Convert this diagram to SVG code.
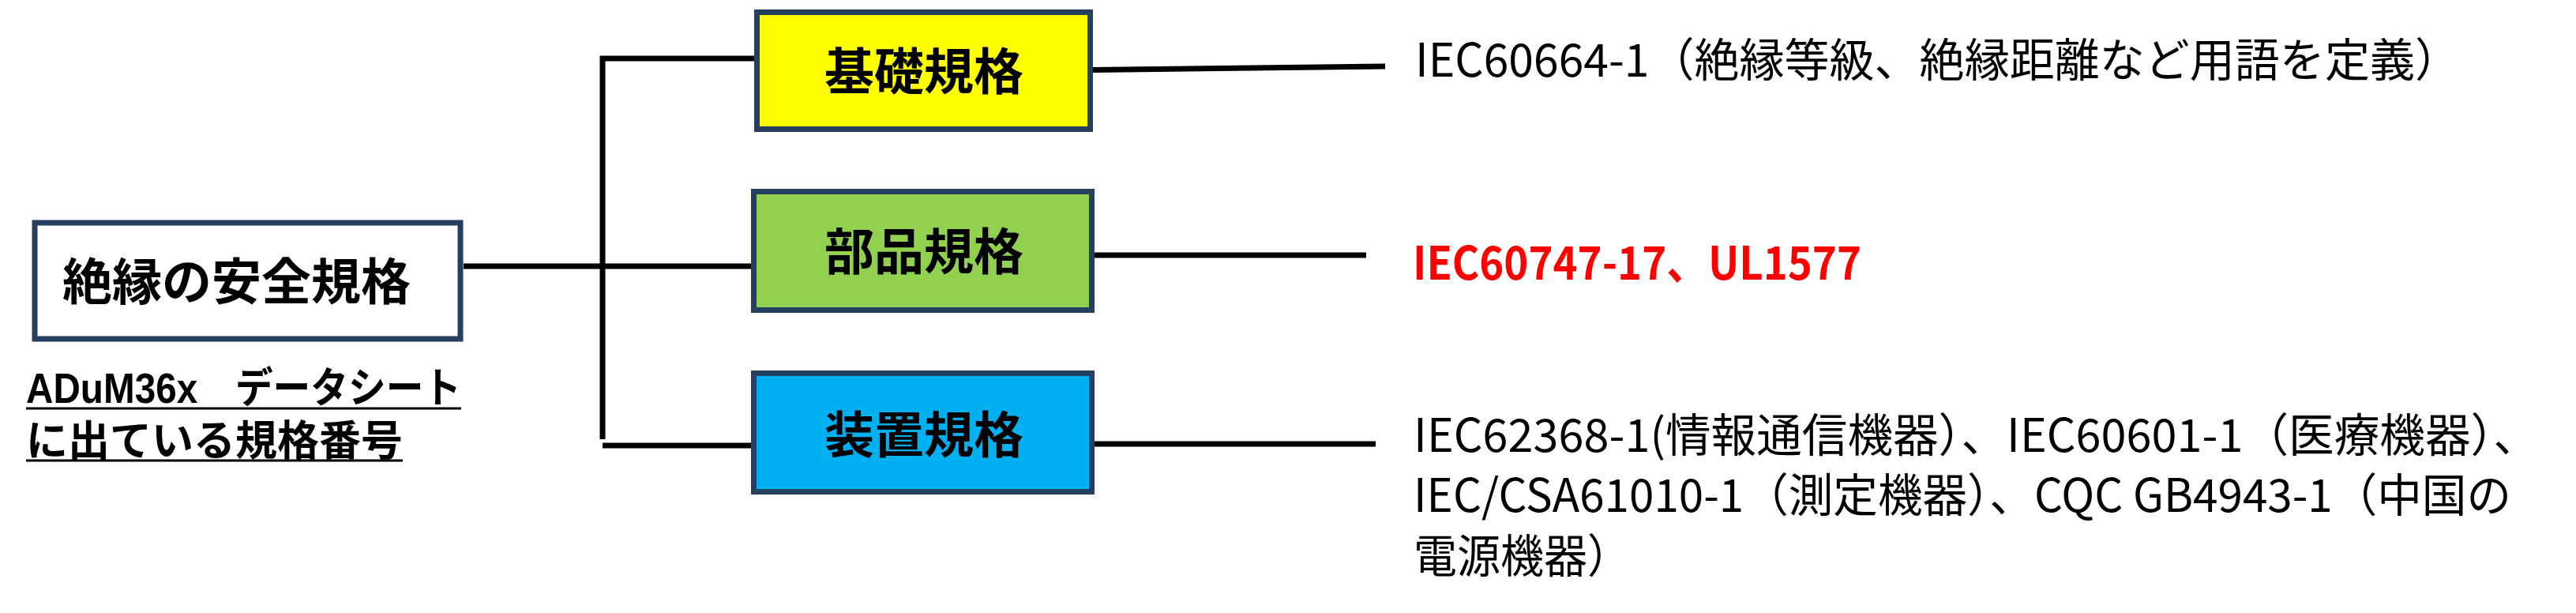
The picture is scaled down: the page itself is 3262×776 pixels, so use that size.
<svg xmlns="http://www.w3.org/2000/svg" width="3262" height="776" viewBox="0 0 3262 776">
<style>
.box{stroke:#243F60;stroke-width:7}
.lbl{font-family:"Noto Sans CJK JP","Noto Sans",sans-serif;font-weight:700;font-size:63px;fill:#000}
.std{font-family:"Noto Sans CJK JP","Noto Sans",sans-serif;font-size:58px;fill:#000}
.red{font-family:"Noto Sans CJK JP","Noto Sans",sans-serif;font-weight:700;font-size:58px;fill:#FF0000}
.sub{font-family:"Liberation Sans","Noto Sans CJK JP",sans-serif;font-weight:700;font-size:53px;fill:#000}
.con{stroke:#000;stroke-width:7;fill:none}
</style>
<rect width="3262" height="776" fill="#FFFFFF"/>
<g id="connectors">
<line class="con" x1="587" y1="337" x2="953" y2="337"/>
<line class="con" x1="763" y1="71" x2="763" y2="556"/>
<line class="con" x1="760" y1="74" x2="957" y2="74"/>
<line class="con" x1="763" y1="564" x2="953" y2="564"/>
<line class="con" x1="1384" y1="88.5" x2="1754" y2="84"/>
<line class="con" x1="1386" y1="323" x2="1730" y2="323"/>
<line class="con" x1="1386" y1="562" x2="1742" y2="562"/>
</g>
<g id="main">
<rect class="box" x="44" y="282" width="539" height="147" fill="#FFFFFF"/>
<text class="lbl" x="79" y="379" textLength="441" lengthAdjust="spacingAndGlyphs">絶縁の安全規格</text>
</g>
<g id="subtitle">
<text class="sub" x="33" y="510" textLength="551" lengthAdjust="spacingAndGlyphs">ADuM36x　データシート</text>
<text class="sub" x="33" y="577" textLength="477" lengthAdjust="spacingAndGlyphs">に出ている規格番号</text>
<line x1="33" y1="517" x2="584" y2="517" stroke="#000" stroke-width="3"/>
<line x1="33" y1="583" x2="510" y2="583" stroke="#000" stroke-width="3"/>
</g>
<g id="kiso">
<rect class="box" x="958.5" y="15.5" width="422" height="148" fill="#FFFF00"/>
<text class="lbl" x="1170" y="113" text-anchor="middle">基礎規格</text>
</g>
<g id="buhin">
<rect class="box" x="954.5" y="242.5" width="428" height="150" fill="#92D050"/>
<text class="lbl" x="1170" y="341" text-anchor="middle">部品規格</text>
</g>
<g id="souchi">
<rect class="box" x="954.5" y="472.5" width="428" height="150" fill="#00B0F0"/>
<text class="lbl" x="1170" y="573" text-anchor="middle">装置規格</text>
</g>
<g id="kiso-text">
<text class="std" x="1792" y="97" textLength="1323" lengthAdjust="spacingAndGlyphs">IEC60664-1（絶縁等級、絶縁距離など用語を定義）</text>
</g>
<g id="buhin-text">
<text class="red" x="1789" y="354" textLength="568" lengthAdjust="spacingAndGlyphs">IEC60747-17、UL1577</text>
</g>
<g id="souchi-text">
<text class="std"><tspan x="1790" y="572" textLength="1425" lengthAdjust="spacingAndGlyphs">IEC62368-1(情報通信機器）、IEC60601-1（医療機器）、</tspan><tspan x="1790" y="648" textLength="1390" lengthAdjust="spacingAndGlyphs">IEC/CSA61010-1（測定機器）、CQC GB4943-1（中国の</tspan><tspan x="1790" y="725" textLength="275" lengthAdjust="spacingAndGlyphs">電源機器）</tspan></text>
</g>
</svg>
